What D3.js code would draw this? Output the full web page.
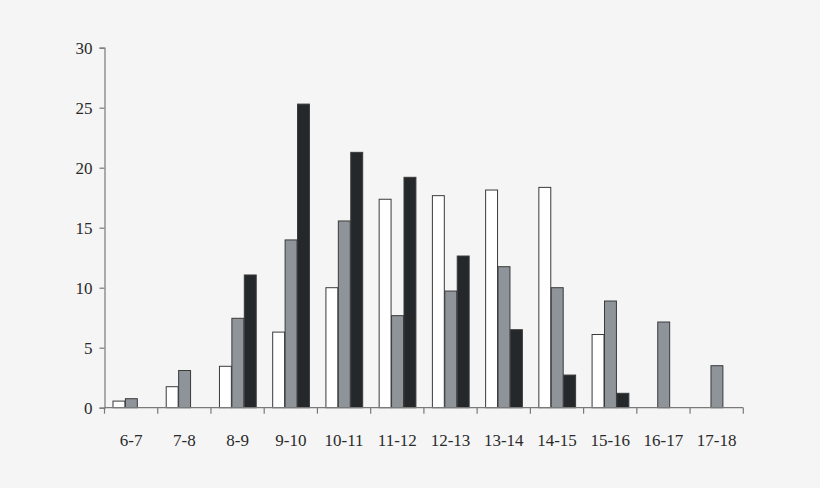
<!DOCTYPE html>
<html>
<head>
<meta charset="utf-8">
<script src="https://cdn.jsdelivr.net/npm/d3@7/dist/d3.min.js"></script>
<style>
  html, body { margin: 0; padding: 0; background: #f5f5f5; }
  svg { display: block; }
  text { font-family: "Liberation Serif", "Times New Roman", serif; fill: #2a2a2a; }
</style>
</head>
<body>
<svg id="chart" width="820" height="488"></svg>
<script>
const categories = ["6-7","7-8","8-9","9-10","10-11","11-12","12-13","13-14","14-15","15-16","16-17","17-18"];
const seriesNames = ["white","gray","black"];
const whiteValues = [0.55, 1.75, 3.45, 6.3, 10.0, 17.37, 17.67, 18.14, 18.36, 6.1, 0, 0];
const grayValues  = [0.75, 3.1, 7.45, 13.98, 15.56, 7.67, 9.72, 11.75, 10.0, 8.89, 7.14, 3.5];
const blackValues = [0, 0, 11.06, 25.3, 21.28, 19.2, 12.64, 6.5, 2.72, 1.2, 0, 0];
const yTicks = [0, 5, 10, 15, 20, 25, 30];

const fills = { white: "#ffffff", gray: "#8f949b", black: "#25282b" };
const seriesValues = { white: whiteValues, gray: grayValues, black: blackValues };

const svg = d3.select("#chart");
const margin = { left: 104.5, right: 76.7, top: 47.7, bottom: 80.3 };
const W = 820, H = 488;

const x0 = d3.scaleBand()
  .domain(categories)
  .range([margin.left, W - margin.right])
  .paddingInner(0.3)
  .paddingOuter(0.15);
const x1 = d3.scaleBand()
  .domain(seriesNames)
  .range([0, x0.bandwidth()]);
const y = d3.scaleLinear()
  .domain([0, 30])
  .range([H - margin.bottom, margin.top]);

// bars
const groups = svg.append("g").selectAll("g")
  .data(categories)
  .join("g")
  .attr("transform", d => `translate(${x0(d)},0)`);

groups.selectAll("rect")
  .data((d, i) => seriesNames.map(s => ({ s, v: seriesValues[s][i] })).filter(o => o.v > 0))
  .join("rect")
  .attr("x", d => x1(d.s) + 0.5)
  .attr("y", d => y(d.v))
  .attr("width", x1.bandwidth() - 0.5)
  .attr("height", d => y(0) - y(d.v))
  .attr("fill", d => fills[d.s])
  .attr("stroke", "#3a3a3a")
  .attr("stroke-width", 1);

// y axis
const yAxis = d3.axisLeft(y).tickValues(yTicks).tickSize(5).tickPadding(7);
const gy = svg.append("g").attr("transform", `translate(${margin.left},0)`).call(yAxis);
gy.select(".domain").attr("stroke", "#7a7a7a").attr("stroke-width", 1.2);
gy.selectAll(".tick line").attr("stroke", "#7a7a7a").attr("stroke-width", 1.2);
gy.selectAll(".tick text")
  .style("font-family", '"Liberation Serif", "Times New Roman", serif')
  .style("font-size", "17px").attr("fill", "#2a2a2a");

// x axis baseline + ticks at band boundaries
const step = x0.step();
const bounds = d3.range(categories.length + 1).map(i => margin.left + i * step);
const gx = svg.append("g");
gx.append("line")
  .attr("x1", margin.left).attr("x2", W - margin.right)
  .attr("y1", y(0)).attr("y2", y(0))
  .attr("stroke", "#7a7a7a").attr("stroke-width", 1.2);
gx.selectAll("line.tk")
  .data(bounds)
  .join("line")
  .attr("class", "tk")
  .attr("x1", d => d).attr("x2", d => d)
  .attr("y1", y(0)).attr("y2", y(0) + 6)
  .attr("stroke", "#7a7a7a").attr("stroke-width", 1.2);
gx.selectAll("text")
  .data(categories)
  .join("text")
  .attr("x", d => x0(d) + x0.bandwidth() / 2)
  .attr("y", 445.5)
  .attr("text-anchor", "middle")
  .style("font-size", "17px")
  .text(d => d);
</script>
</body>
</html>
